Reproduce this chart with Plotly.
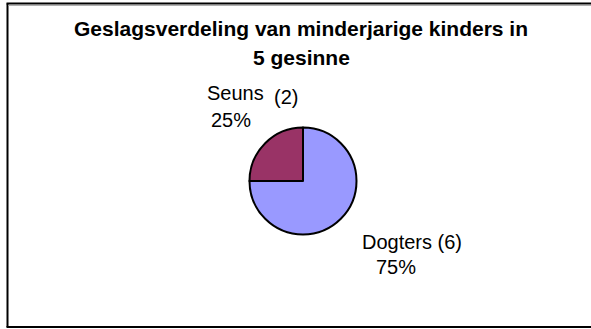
import plotly.graph_objects as go

# Data
labels = ["Seuns", "Dogters"]
counts = [2, 6]
colors = ["#993366", "#9999FF"]
title_lines = ["Geslagsverdeling van minderjarige kinders in", "5 gesinne"]

W, H = 591, 329
total = sum(counts)
pcts = [round(100 * c / total) for c in counts]

fig = go.Figure(
    go.Pie(
        labels=labels,
        values=counts,
        sort=False,
        direction="clockwise",
        rotation=270,
        marker=dict(colors=colors, line=dict(color="black", width=2)),
        textinfo="none",
        hoverinfo="label+value+percent",
        showlegend=False,
        domain=dict(x=[(303 - 53.5) / W, (303 + 53.5) / W],
                    y=[(H - 181 - 53.5) / H, (H - 181 + 53.5) / H]),
    )
)

font = dict(family="Arial, Liberation Sans, sans-serif", color="black")


def px(x, y):
    return x / W, 1 - y / H


def note(text, xpx, ypx, size, anchor="center"):
    x, y = px(xpx, ypx)
    return dict(x=x, y=y, xref="paper", yref="paper", text=text, showarrow=False,
                xanchor=anchor, yanchor="middle", font=dict(size=size, **font))


annotations = [
    # Title, two lines
    note(f"<b>{title_lines[0]}</b>", 301, 29, 21),
    note(f"<b>{title_lines[1]}</b>", 301, 57.5, 21),
    # Slice labels
    note(labels[0], 205, 93, 20, "left"),
    note(f"({counts[0]})", 272, 97, 20, "left"),
    note(f"{pcts[0]}%", 231, 120, 20),
    note(f"{labels[1]} ({counts[1]})", 411.5, 242, 20),
    note(f"{pcts[1]}%", 396, 267, 20),
]

# Chart frame: left, top and bottom edges (right edge runs off the page)
frame = dict(color="black", width=2)
fx0 = 7.5 / W
fy_top = 1 - 3.5 / H
fy_bot = 1 - 327 / H
shapes = [
    dict(type="line", xref="paper", yref="paper", x0=fx0, x1=fx0, y0=fy_bot, y1=fy_top, line=frame),
    dict(type="line", xref="paper", yref="paper", x0=fx0 - 1 / W, x1=1.01, y0=fy_top, y1=fy_top, line=frame),
    dict(type="line", xref="paper", yref="paper", x0=fx0 - 1 / W, x1=1.01, y0=fy_bot, y1=fy_bot, line=frame),
    # faint grey shadow under the top edge
    dict(type="line", xref="paper", yref="paper", x0=fx0 + 1 / W, x1=1.01,
         y0=fy_top - 2 / H, y1=fy_top - 2 / H, line=dict(color="#b0b0b0", width=1)),
]

fig.update_layout(
    width=W, height=H,
    margin=dict(l=0, r=0, t=0, b=0),
    paper_bgcolor="white",
    plot_bgcolor="white",
    annotations=annotations,
    shapes=shapes,
)

fig.write_html("out.html")
